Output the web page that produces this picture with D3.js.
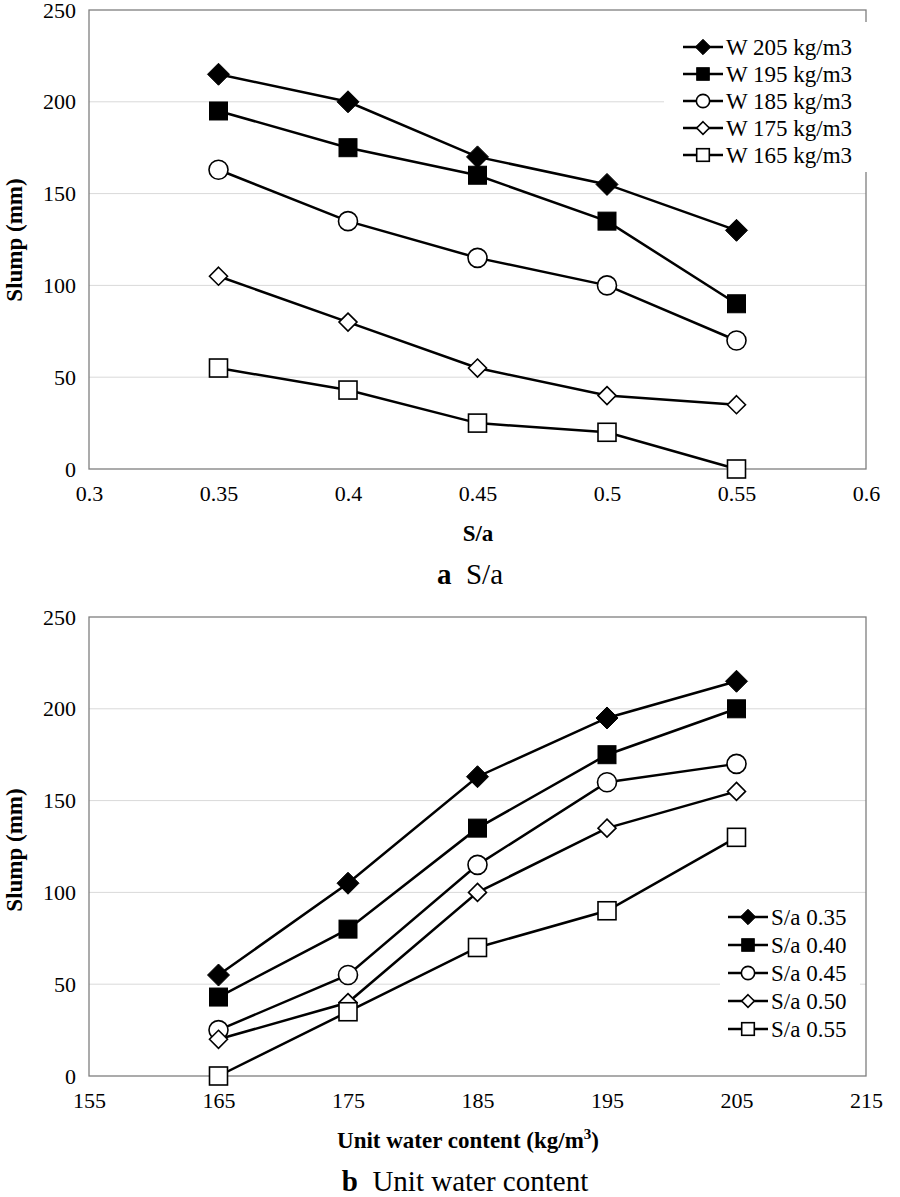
<!DOCTYPE html>
<html><head><meta charset="utf-8">
<script src="https://cdn.jsdelivr.net/npm/d3@7"></script>
<style>body{margin:0;background:#fff}svg{display:block}</style>
</head><body><svg id="c" width="900" height="1197"></svg>
<script>
// Data
const saValues = [0.35, 0.40, 0.45, 0.50, 0.55];
const waterValues = [165, 175, 185, 195, 205];
const slumpW205 = [215, 200, 170, 155, 130];
const slumpW195 = [195, 175, 160, 135, 90];
const slumpW185 = [163, 135, 115, 100, 70];
const slumpW175 = [105, 80, 55, 40, 35];
const slumpW165 = [55, 43, 25, 20, 0];
const topLabels = ["W 205 kg/m3","W 195 kg/m3","W 185 kg/m3","W 175 kg/m3","W 165 kg/m3"];
const botLabels = ["S/a 0.35","S/a 0.40","S/a 0.45","S/a 0.50","S/a 0.55"];
const topXTicks = [0.3,0.35,0.4,0.45,0.5,0.55,0.6];
const botXTicks = [155,165,175,185,195,205,215];
const yTicks = [0,50,100,150,200,250];
const markers = ["diamondFill","squareFill","circleOpen","diamondOpen","squareOpen"];

const topSeries = [slumpW205, slumpW195, slumpW185, slumpW175, slumpW165];
// bottom: series per S/a across water content (same measurements, transposed)
const botSeries = saValues.map((s,i)=> waterValues.map(w=> topSeries[4 - waterValues.indexOf(w)][i]));

const FONT = "Liberation Serif";
const svg = d3.select("#c");

function marker(g, type, x, y, scale=1){
  const s = scale;
  if(type==="diamondFill"){
    const h=11*s;
    g.append("path").attr("d",`M${x},${y-h}L${x+h},${y}L${x},${y+h}L${x-h},${y}Z`).attr("fill","#000").attr("stroke","#000").attr("stroke-width",1);
  } else if(type==="squareFill"){
    const h=9*s;
    g.append("rect").attr("x",x-h).attr("y",y-h).attr("width",2*h).attr("height",2*h).attr("fill","#000").attr("stroke","#000").attr("stroke-width",1);
  } else if(type==="circleOpen"){
    g.append("circle").attr("cx",x).attr("cy",y).attr("r",9.5*s).attr("fill","#fff").attr("stroke","#000").attr("stroke-width",1.6);
  } else if(type==="diamondOpen"){
    const h=9*s;
    g.append("path").attr("d",`M${x},${y-h}L${x+h},${y}L${x},${y+h}L${x-h},${y}Z`).attr("fill","#fff").attr("stroke","#000").attr("stroke-width",1.6);
  } else {
    const h=9*s;
    g.append("rect").attr("x",x-h).attr("y",y-h).attr("width",2*h).attr("height",2*h).attr("fill","#fff").attr("stroke","#000").attr("stroke-width",1.6);
  }
}

function chart(opts){
  const {top, bottom, xDomain, xTicks, xVals, series, labels, xTitle, xTitleHtml, caption, captionRest, legend, yTitleY} = opts;
  const left=89, right=866;
  const x = d3.scaleLinear().domain(xDomain).range([left,right]);
  const y = d3.scaleLinear().domain([0,250]).range([bottom,top]);
  const g = svg.append("g");
  // grid
  g.selectAll(null).data(yTicks.filter(d=>d>0&&d<250)).enter().append("line")
    .attr("x1",left).attr("x2",right).attr("y1",d=>y(d)).attr("y2",d=>y(d))
    .attr("stroke","#d9d9d9").attr("stroke-width",1);
  // frame
  g.append("rect").attr("x",left).attr("y",top).attr("width",right-left).attr("height",bottom-top)
    .attr("fill","none").attr("stroke","#7f7f7f").attr("stroke-width",1.3);
  // y axis labels
  const ya = g.append("g").attr("transform",`translate(${left},0)`)
    .call(d3.axisLeft(y).tickValues(yTicks).tickSize(0).tickPadding(13).tickFormat(d3.format("d")));
  ya.attr("font-family", FONT).attr("font-size", 22);
  ya.select(".domain").remove();
  ya.selectAll("text").attr("font-family", FONT).attr("fill","#000");
  const xa = g.append("g").attr("transform",`translate(0,${bottom})`)
    .call(d3.axisBottom(x).tickValues(xTicks).tickSize(0).tickPadding(16).tickFormat(d=>String(d)));
  xa.attr("font-family", FONT).attr("font-size", 22);
  xa.select(".domain").remove();
  xa.selectAll("text").attr("font-family", FONT).attr("fill","#000");
  // y title
  g.append("text").attr("transform",`translate(22,${yTitleY}) rotate(-90)`).attr("text-anchor","middle")
    .attr("font-family",FONT).attr("font-size",23).attr("font-weight","bold").text("Slump (mm)");
  // x title
  const xt = g.append("text").attr("x",opts.xTitleX).attr("y",bottom+72).attr("text-anchor","middle")
    .attr("font-family",FONT).attr("font-size",23).attr("font-weight","bold");
  if(xTitleHtml){
    xt.append("tspan").text("Unit water content (kg/m");
    xt.append("tspan").attr("dy",-9).attr("font-size",15).text("3");
    xt.append("tspan").attr("dy",9).text(")");
  } else xt.text(xTitle);
  // caption
  const cp = g.append("text").attr("x",opts.capX).attr("y",bottom+115).attr("text-anchor","middle")
    .attr("font-family",FONT).attr("font-size",29);
  cp.append("tspan").attr("font-weight","bold").text(caption);
  cp.append("tspan").text("\u2002" + captionRest);
  // lines
  const line = d3.line().x((d,i)=>x(xVals[i])).y(d=>y(d));
  series.forEach((s,k)=>{
    g.append("path").datum(s).attr("d",line).attr("fill","none").attr("stroke","#000").attr("stroke-width",2.5);
  });
  series.forEach((s,k)=>{
    s.forEach((v,i)=>marker(g, markers[k], x(xVals[i]), y(v)));
  });
  // legend
  const lg = g.append("g");
  lg.append("rect").attr("x",legend.bx).attr("y",legend.by).attr("width",legend.bw).attr("height",legend.bh).attr("fill","#fff");
  labels.forEach((lab,k)=>{
    const yy = legend.y0 + k*legend.dy;
    lg.append("line").attr("x1",legend.x0).attr("x2",legend.x0+40).attr("y1",yy).attr("y2",yy).attr("stroke","#000").attr("stroke-width",2.5);
    marker(lg, markers[k], legend.x0+20, yy, 0.7);
    lg.append("text").attr("x",legend.x0+43).attr("y",yy).attr("dy","0.35em")
      .attr("font-family",FONT).attr("font-size",23).text(lab);
  });
}

chart({top:10,bottom:469,xDomain:[0.3,0.6],xTicks:topXTicks,xVals:saValues,series:topSeries,labels:topLabels,
  xTitle:"S/a",xTitleX:478,caption:"a",captionRest:"S/a",capX:470,yTitleY:240,
  legend:{bx:664,by:22,bw:212,bh:150,x0:683,y0:47,dy:27}});
chart({top:617,bottom:1076,xDomain:[155,215],xTicks:botXTicks,xVals:waterValues,series:botSeries,labels:botLabels,
  xTitleHtml:true,xTitleX:468,caption:"b",captionRest:"Unit water content",capX:465,yTitleY:850,
  legend:{bx:720,by:900,bw:140,bh:145,x0:728,y0:917,dy:28}});
</script></body></html>
